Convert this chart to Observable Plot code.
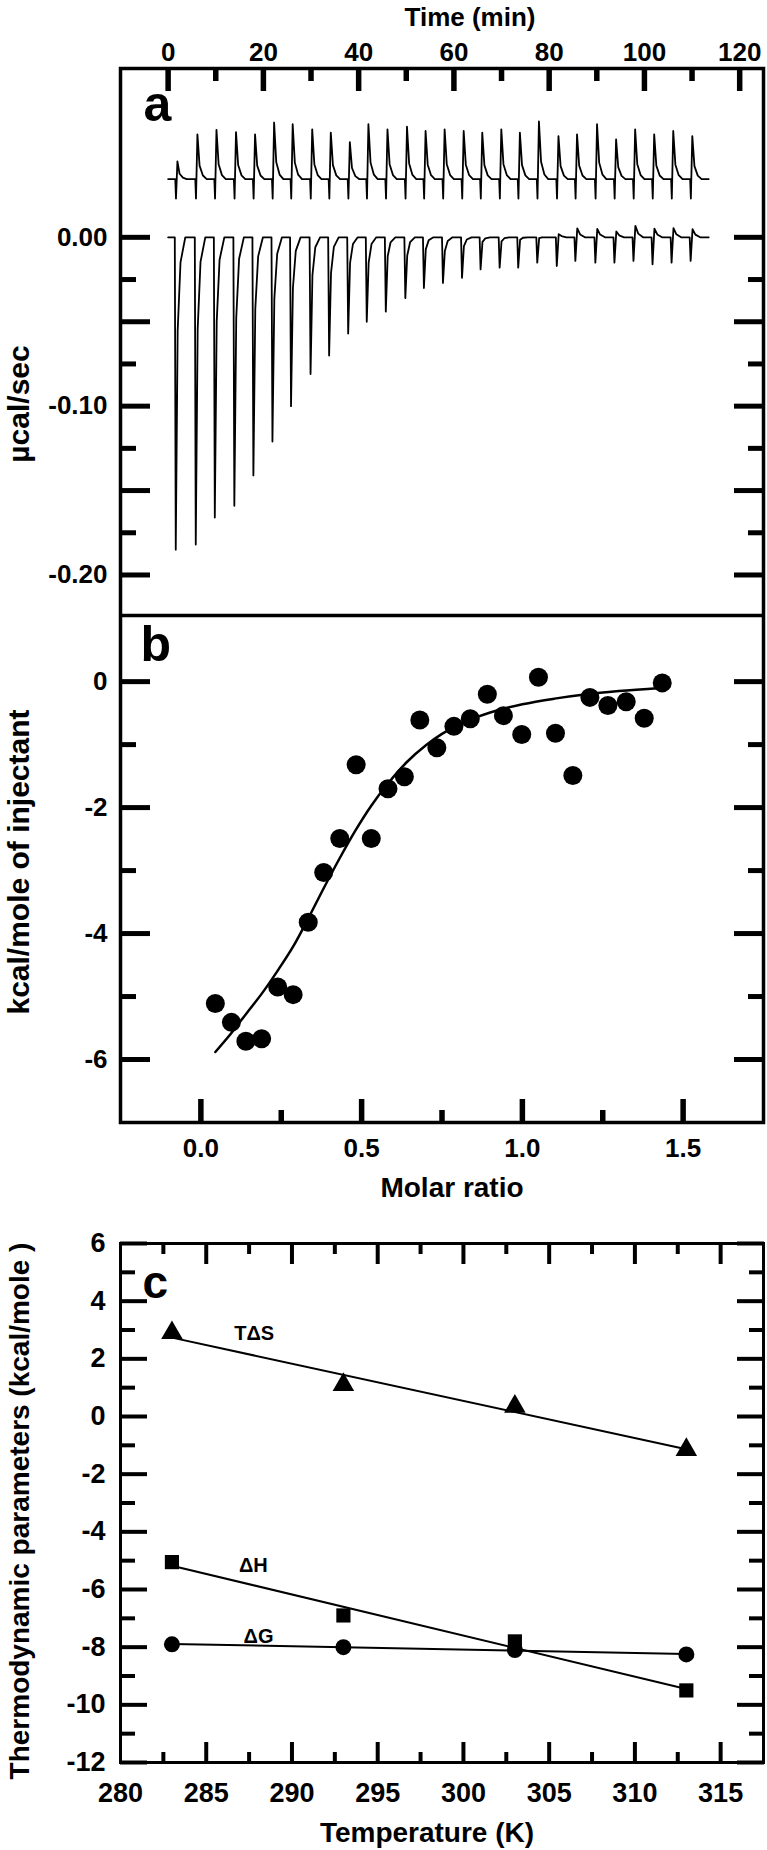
<!DOCTYPE html>
<html>
<head>
<meta charset="utf-8">
<script src="https://cdn.jsdelivr.net/npm/d3@7"></script>
<script src="https://cdn.jsdelivr.net/npm/@observablehq/plot@0.6"></script>
<style>
  body { margin: 0; background: #fff; }
  #chart { width: 767px; }
  #chart svg { display: block; }
</style>
</head>
<body>
<div id="chart"></div>
<script>
// ---------- Panel a: raw ITC thermogram ----------
const injectionTimes = [1.4, 5.6, 9.6, 13.7, 17.7, 21.7, 25.6, 29.7, 33.6, 37.6, 41.5, 45.5, 49.6, 53.5,
  57.5, 61.5, 65.4, 69.4, 73.3, 77.3, 81.4, 85.3, 89.5, 93.5, 97.5, 101.5, 105.5, 109.5];
const sampleDown = [-0.185, -0.182, -0.166, -0.159, -0.141, -0.121, -0.100, -0.081, -0.070, -0.057,
  -0.050, -0.044, -0.036, -0.030, -0.027, -0.024, -0.019, -0.018, -0.018, -0.015,
  -0.017, -0.014, -0.015, -0.015, -0.014, -0.016, -0.015, -0.014];
const sampleUp = [0, 0, 0, 0, 0, 0, 0, 0.002, 0, 0.002, 0, 0.002, 0, 0.002, 0, 0.002,
  0.003, 0.003, 0.004, 0.004, 0.007, 0.0095, 0.0095, 0.008, 0.011, 0.010, 0.010, 0.009];
const refPeak = [0.045, 0.061, 0.0637, 0.0623, 0.061, 0.068, 0.067, 0.064, 0.062, 0.0564,
  0.067, 0.064, 0.0655, 0.063, 0.064, 0.063, 0.062, 0.064, 0.062, 0.0686,
  0.060, 0.061, 0.067, 0.058, 0.064, 0.061, 0.063, 0.060];
const refBaseline = 0.0345;
const refDip = 0.023;
const traceStart = 0;
const traceEnd = 113.5;

const timeMajor = [0, 20, 40, 60, 80, 100, 120];
const timeMinor = [10, 30, 50, 70, 90, 110];
const timeLabels = [0, 20, 40, 60, 80, 100, 120];
const powerMajor = [0, -0.05, -0.10, -0.15, -0.20];
const powerMinor = [-0.025, -0.075, -0.125, -0.175];
const powerLabels = [0, -0.10, -0.20];

// ---------- Panel b: integrated heats ----------
const molarRatio = [0.045, 0.095, 0.14, 0.189, 0.239, 0.287, 0.334, 0.382, 0.432, 0.483, 0.530, 0.582,
  0.633, 0.681, 0.734, 0.787, 0.838, 0.891, 0.941, 0.998, 1.050, 1.103, 1.157, 1.210, 1.266,
  1.323, 1.379, 1.435];
const heat = [-5.11, -5.41, -5.71, -5.67, -4.85, -4.97, -3.82, -3.03, -2.49, -1.32, -2.49, -1.70,
  -1.51, -0.61, -1.05, -0.71, -0.59, -0.20, -0.54, -0.84, 0.07, -0.82, -1.49, -0.25, -0.38,
  -0.32, -0.58, -0.02];
const fitRatio = [0.045, 0.095, 0.14, 0.19, 0.24, 0.29, 0.335, 0.38, 0.43, 0.48, 0.53, 0.58, 0.64,
  0.70, 0.75, 0.80, 0.90, 1.00, 1.10, 1.20, 1.30, 1.43];
const fitHeat = [-5.88, -5.58, -5.28, -4.95, -4.58, -4.18, -3.75, -3.3, -2.82, -2.37, -1.97, -1.63,
  -1.28, -1.01, -0.83, -0.69, -0.49, -0.36, -0.27, -0.2, -0.15, -0.1];
const ratioMajor = [0, 0.5, 1.0, 1.5];
const ratioMinor = [0.25, 0.75, 1.25];
const heatMajor = [0, -2, -4, -6];
const heatMinor = [-1, -3, -5];

// ---------- Panel c: thermodynamic parameters ----------
const temperature = [283, 293, 303, 313];
const TdS = [2.9, 1.1, 0.35, -1.15];
const dH = [-5.05, -6.9, -7.8, -9.5];
const dG = [-7.9, -8.0, -8.1, -8.25];
const seriesNames = ["T\u0394S", "\u0394H", "\u0394G"];
const seriesLabelT = [287.8, 287.75, 288.05];
const seriesLabelV = [2.88, -5.17, -7.63];
const tempMajor = [285, 290, 295, 300, 305, 310, 315];
const tempMinor = [282.5, 287.5, 292.5, 297.5, 302.5, 307.5, 312.5];
const tempLabels = [280, 285, 290, 295, 300, 305, 310, 315];
const paramMajor = [-12, -10, -8, -6, -4, -2, 0, 2, 4, 6];
const paramMinor = [-11, -9, -7, -5, -3, -1, 1, 3, 5];

// ---------- helpers ----------
const FONT = "'Liberation Sans', Arial, Helvetica, sans-serif";
const W = 767, ML = 120, MR = 4;

function sampleTrace() {
  const pts = [{t: traceStart, v: 0}];
  injectionTimes.forEach((t, i) => {
    const d = sampleDown[i], u = sampleUp[i];
    pts.push({t: t, v: 0}, {t: t + 0.2, v: d}, {t: t + 0.6, v: 0.3 * d + u},
             {t: t + 1.2, v: 0.08 * d + 0.3 * u}, {t: t + 2.2, v: 0});
  });
  pts.push({t: traceEnd, v: 0});
  return pts;
}
function referenceTrace() {
  const B = refBaseline;
  const pts = [{t: traceStart, v: B}];
  injectionTimes.forEach((t, i) => {
    const p = refPeak[i];
    pts.push({t: t + 0.1, v: B}, {t: t + 0.25, v: refDip}, {t: t + 0.55, v: p},
             {t: t + 1.0, v: B + 0.3 * (p - B)}, {t: t + 1.7, v: B + 0.08 * (p - B)}, {t: t + 2.5, v: B});
  });
  pts.push({t: traceEnd, v: B});
  return pts;
}
function ticksX(values, size, sw, anchors) {
  return anchors.map(anchor => Plot.axisX(values, {anchor, tickSize: -size, strokeWidth: sw, fill: "none", label: null}));
}
function ticksY(values, size, sw) {
  return ["left", "right"].map(anchor => Plot.axisY(values, {anchor, tickSize: -size, strokeWidth: sw, fill: "none", label: null}));
}
const bold = {fontWeight: "bold", fontFamily: FONT};
function title(str, opts) {
  return Plot.text([str], {text: d => d, fontSize: 28, ...bold, ...opts});
}

// ---------- Panel a ----------
const plotA = Plot.plot({
  width: W, height: 615, marginTop: 68, marginBottom: 0, marginLeft: ML, marginRight: MR,
  style: {fontFamily: FONT, background: "white"},
  x: {domain: [-10, 125]},
  y: {domain: [-0.224, 0.1]},
  marks: [
    Plot.line(referenceTrace(), {x: "t", y: "v", strokeWidth: 1.8, stroke: "black"}),
    Plot.line(sampleTrace(), {x: "t", y: "v", strokeWidth: 1.8, stroke: "black"}),
    ...ticksX(timeMajor, 22, 5.5, ["top"]),
    ...ticksX(timeMinor, 12, 5.5, ["top"]),
    Plot.axisX(timeLabels, {anchor: "top", tickSize: 0, tickPadding: 8, fontSize: 26, ...bold, label: null, tickFormat: d => String(d)}),
    ...ticksY(powerMajor, 30, 5),
    ...ticksY(powerMinor, 16, 5),
    Plot.axisY(powerLabels, {anchor: "left", tickSize: 0, tickPadding: 13, fontSize: 26, ...bold, label: null, tickFormat: d => d.toFixed(2)}),
    Plot.frame({strokeWidth: 3.5, stroke: "black"}),
    Plot.text(["a"], {text: d => d, frameAnchor: "top-left", dx: 23, dy: 52, textAnchor: "start", lineAnchor: "bottom", fontSize: 50, ...bold}),
    title("Time (min)", {frameAnchor: "top", dx: 28, dy: -43, lineAnchor: "bottom", fontSize: 26}),
    title("\u00b5cal/sec", {frameAnchor: "left", dx: -92, dy: 62, rotate: -90, textAnchor: "middle", lineAnchor: "bottom", fontSize: 30})
  ]
});

// ---------- Panel b ----------
const plotB = Plot.plot({
  width: W, height: 610, marginTop: 0, marginBottom: 103, marginLeft: ML, marginRight: MR,
  style: {fontFamily: FONT, background: "white"},
  x: {domain: [-0.25, 1.75]},
  y: {domain: [-7, 1.05]},
  marks: [
    Plot.line(fitRatio.map((r, i) => ({r, h: fitHeat[i]})), {x: "r", y: "h", curve: "monotone-x", strokeWidth: 2.5, stroke: "black"}),
    Plot.dot(molarRatio.map((r, i) => ({r, h: heat[i]})), {x: "r", y: "h", r: 9.5, fill: "black", stroke: "none"}),
    ...ticksX(ratioMajor, 23, 5.5, ["bottom"]),
    ...ticksX(ratioMinor, 12, 5.5, ["bottom"]),
    Plot.axisX(ratioMajor, {anchor: "bottom", tickSize: 0, tickPadding: 16, fontSize: 26, ...bold, label: null, tickFormat: d => d.toFixed(1)}),
    ...ticksY(heatMajor, 30, 5),
    ...ticksY(heatMinor, 16, 5),
    Plot.axisY(heatMajor, {anchor: "left", tickSize: 0, tickPadding: 13, fontSize: 26, ...bold, label: null, tickFormat: d => String(d)}),
    Plot.frame({strokeWidth: 3.5, stroke: "black"}),
    Plot.text(["b"], {text: d => d, frameAnchor: "top-left", dx: 20, dy: 45, textAnchor: "start", lineAnchor: "bottom", fontSize: 50, ...bold}),
    title("Molar ratio", {frameAnchor: "bottom", dx: 10, dy: 66, lineAnchor: "middle"}),
    title("kcal/mole of injectant", {frameAnchor: "left", dx: -92, dy: -7, rotate: -90, textAnchor: "middle", lineAnchor: "bottom", fontSize: 30})
  ]
});

// ---------- Panel c ----------
const tds = temperature.map((t, i) => ({t, v: TdS[i]}));
const dh = temperature.map((t, i) => ({t, v: dH[i]}));
const dg = temperature.map((t, i) => ({t, v: dG[i]}));
const plotC = Plot.plot({
  width: W, height: 625, marginTop: 18, marginBottom: 88, marginLeft: ML, marginRight: MR,
  style: {fontFamily: FONT, background: "white"},
  x: {domain: [280, 317.5]},
  y: {domain: [-12, 6]},
  marks: [
    Plot.linearRegressionY(tds, {x: "t", y: "v", ci: 0, stroke: "black", strokeWidth: 2}),
    Plot.linearRegressionY(dh, {x: "t", y: "v", ci: 0, stroke: "black", strokeWidth: 2}),
    Plot.linearRegressionY(dg, {x: "t", y: "v", ci: 0, stroke: "black", strokeWidth: 2}),
    Plot.dot(tds, {x: "t", y: "v", symbol: "triangle", r: 8, fill: "black", stroke: "none"}),
    Plot.dot(dh, {x: "t", y: "v", symbol: "square", r: 8, fill: "black", stroke: "none"}),
    Plot.dot(dg, {x: "t", y: "v", symbol: "circle", r: 8, fill: "black", stroke: "none"}),
    Plot.text(seriesNames, {text: d => d, x: (d, i) => seriesLabelT[i], y: (d, i) => seriesLabelV[i], fontSize: 20, ...bold}),
    ...ticksX(tempMajor, 20, 4, ["top", "bottom"]),
    ...ticksX(tempMinor, 10, 4, ["top", "bottom"]),
    Plot.axisX(tempLabels, {anchor: "bottom", tickSize: 0, tickPadding: 20, fontSize: 27, ...bold, label: null, tickFormat: d => String(d)}),
    ...ticksY(paramMajor, 27, 4),
    ...ticksY(paramMinor, 15, 4),
    Plot.axisY(paramMajor, {anchor: "left", tickSize: 0, tickPadding: 15, fontSize: 27, ...bold, label: null, tickFormat: d => String(d)}),
    Plot.frame({strokeWidth: 3, stroke: "black"}),
    Plot.text(["c"], {text: d => d, frameAnchor: "top-left", dx: 22, dy: 54, textAnchor: "start", lineAnchor: "bottom", fontSize: 46, ...bold}),
    title("Temperature (K)", {frameAnchor: "bottom", dx: -15, dy: 71, lineAnchor: "middle"}),
    title("Thermodynamic parameters (kcal/mole )", {frameAnchor: "left", dx: -92, dy: 8, rotate: -90, textAnchor: "middle", lineAnchor: "bottom", fontSize: 28})
  ]
});

const chart = document.getElementById("chart");
chart.append(plotA, plotB, plotC);
</script>
</body>
</html>
